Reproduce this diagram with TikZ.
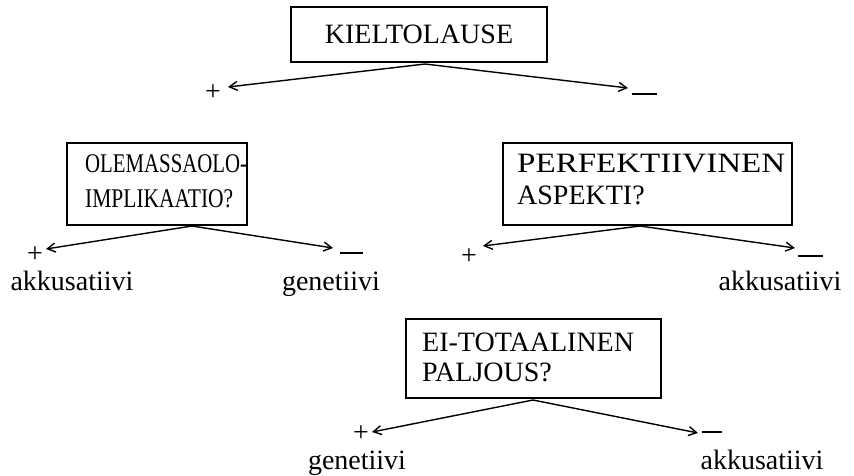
\documentclass[tikz,border=0pt]{standalone}
\usepackage{graphicx}
\usepackage{fontspec}
\setmainfont{Liberation Serif}
\usetikzlibrary{arrows.meta}
\begin{document}
\begin{tikzpicture}[x=1pt,y=-1pt,
  every node/.style={font=\fontsize{28}{32}\selectfont},
  qbox/.style={draw, line width=1.3pt, inner sep=0pt},
  qtext/.style={inner sep=0pt, anchor=west, align=left},
  branch/.style={line width=1.4pt, -{Straight Barb[length=8pt,width=9pt,line width=1.4pt]}},
  sign/.style={inner sep=0pt},
  casename/.style={inner sep=0pt, anchor=base}]
\useasboundingbox (0,0) rectangle (854,475);

% question boxes
\node[qbox, minimum width=256pt, minimum height=55pt] (kb) at (419,34.5) {KIELTOLAUSE};
\node[qbox, minimum width=180pt, minimum height=82pt] (ob) at (157,184) {};
\node[qbox, minimum width=289pt, minimum height=82pt] (pb) at (647.5,184) {};
\node[qbox, minimum width=255pt, minimum height=79pt] (eb) at (533.5,358.5) {};

% the questions inside the boxes
\node[qtext, font=\fontsize{27}{35}\selectfont] (ot) at (85,181.5)
  {\resizebox{162pt}{\height}{OLEMASSAOLO-}\\\resizebox{148pt}{\height}{IMPLIKAATIO?}};
\node[qtext] (pt) at (517,179.5)
  {\resizebox{268pt}{\height}{PERFEKTIIVINEN}\\ASPEKTI?};
\node[qtext, font=\fontsize{28}{30}\selectfont] (et) at (422,357.5)
  {EI-TOTAALINEN\\PALJOUS?};

% branch points under the boxes and arrow ends
\coordinate (ka) at (425,64);
\coordinate (kl) at (228,87);
\coordinate (kr) at (628,88);
\coordinate (oa) at (192,226);
\coordinate (ol) at (46,249);
\coordinate (or) at (333,248);
\coordinate (pa) at (640,226);
\coordinate (pl) at (483,246);
\coordinate (pr) at (795,248);
\coordinate (ea) at (533,400);
\coordinate (el) at (372,432);
\coordinate (er) at (698,433);

\draw[branch] (ka) -- (kl);
\draw[branch] (ka) -- (kr);
\draw[branch] (oa) -- (ol);
\draw[branch] (oa) -- (or);
\draw[branch] (pa) -- (pl);
\draw[branch] (pa) -- (pr);
\draw[branch] (ea) -- (el);
\draw[branch] (ea) -- (er);

% plus and minus signs
\node[sign] (kp) at (213,93) {+};
\node[sign] (km) at (644,94) {\rule{25pt}{1.4pt}};
\node[sign] (op) at (35,255) {+};
\node[sign] (om) at (351,253) {\rule{23pt}{1.4pt}};
\node[sign] (pp) at (469,257) {+};
\node[sign] (pm) at (810,256) {\rule{25pt}{1.4pt}};
\node[sign] (ep) at (361,434) {+};
\node[sign] (em) at (712,432) {\rule{20pt}{1.4pt}};

% case labels
\node[casename] (oakk) at (72,290) {akkusatiivi};
\node[casename] (ogen) at (331,290) {genetiivi};
\node[casename] (pakk) at (780,290) {akkusatiivi};
\node[casename] (egen) at (357,469) {genetiivi};
\node[casename] (eakk) at (762,469) {akkusatiivi};
\end{tikzpicture}
\end{document}
